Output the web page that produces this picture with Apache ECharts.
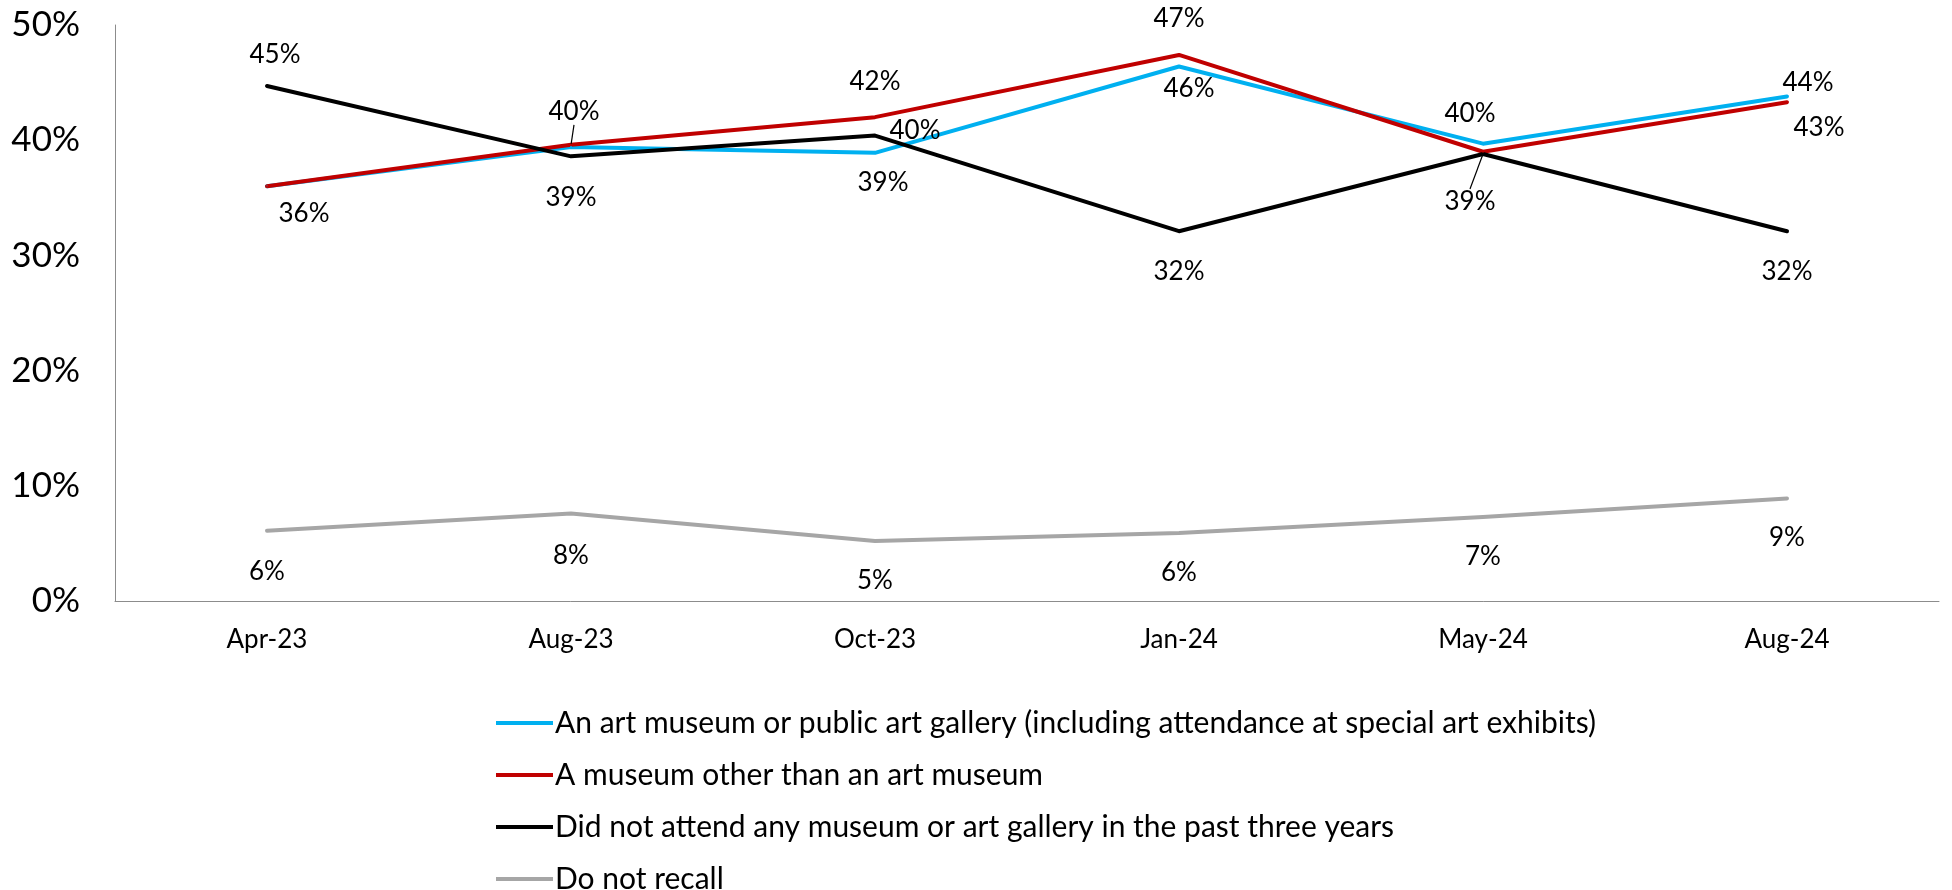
<!DOCTYPE html>
<html>
<head>
<meta charset="utf-8">
<title>Museum attendance</title>
<script src="https://cdn.jsdelivr.net/npm/echarts@6/dist/echarts.min.js"></script>
<style>
  html, body { margin: 0; padding: 0; background: #fff; }
  #chart { width: 1952px; height: 890px; }
</style>
</head>
<body>
<div id="chart"></div>
<script>
// Survey waves
const waves = ['Apr-23', 'Aug-23', 'Oct-23', 'Jan-24', 'May-24', 'Aug-24'];

// Share of respondents (%)
const artMuseum = [36.0, 39.4, 38.9, 46.4, 39.7, 43.8];
const otherMuseum = [36.0, 39.6, 42.0, 47.4, 39.0, 43.3];
const noneAttended = [44.7, 38.6, 40.4, 32.1, 38.8, 32.1];
const doNotRecall = [6.1, 7.6, 5.2, 5.9, 7.3, 8.9];

const seriesNames = [
  'An art museum or public art gallery (including attendance at special art exhibits)',
  'A museum other than an art museum',
  'Did not attend any museum or art gallery in the past three years',
  'Do not recall'
];
const seriesColors = ['#00B0F0', '#C00000', '#000000', '#A6A6A6'];

// Value axis ticks
const yMin = 0, yMax = 50, yStep = 10;

// Label placement (pixel shift from each point), labels hidden where another
// series prints the same number on the same spot, and labels with a leader line
const labelShift = [
  [[37, 27], [0, 51], [8, 30], [10, 22], [-13, -30], [21, -14]],
  [[37, 27], [3, -33], [0, -36], [0, -36], [-13, 50], [32, 25]],
  [[8, -31], [0, 41], [40, -5], [0, 40], [-13, 48], [0, 40]],
  [[0, 41], [0, 42], [0, 40], [0, 40], [0, 40], [0, 39]]
];
const hiddenLabels = [[0, 1], [4], [], []];
const leaderLines = [[], [1], [4], []];

const FONT = 'Lato, "Open Sans", sans-serif';

const chart = echarts.init(document.getElementById('chart'));

function buildSeries(values, idx) {
  return {
    name: seriesNames[idx],
    type: 'line',
    data: values.map((v, i) => ({
      value: v,
      label: { show: hiddenLabels[idx].indexOf(i) < 0 },
      labelLine: { show: leaderLines[idx].indexOf(i) >= 0 }
    })),
    symbol: 'circle',
    symbolSize: 2,
    showSymbol: true,
    silent: true,
    animation: false,
    lineStyle: { color: seriesColors[idx], width: 4, cap: 'round', join: 'round' },
    itemStyle: { color: seriesColors[idx] },
    label: {
      show: true,
      position: 'inside',
      align: 'center',
      verticalAlign: 'middle',
      color: '#000',
      fontFamily: FONT,
      fontSize: 26,
      formatter: p => Math.round(p.value) + '%'
    },
    labelLine: {
      show: false,
      lineStyle: { color: '#000', width: 1.2 }
    },
    labelLayout: p => ({
      dx: labelShift[idx][p.dataIndex][0],
      dy: labelShift[idx][p.dataIndex][1]
    })
  };
}

chart.setOption({
  backgroundColor: '#fff',
  animation: false,
  grid: { left: 115, right: 13, top: 25, bottom: 289, containLabel: false },
  xAxis: {
    type: 'category',
    data: waves,
    boundaryGap: true,
    axisLine: { lineStyle: { color: '#8C8C8C', width: 1 } },
    axisTick: { show: false },
    axisLabel: { color: '#000', fontFamily: FONT, fontSize: 26, margin: 26 },
    splitLine: { show: false }
  },
  yAxis: {
    type: 'value',
    min: yMin,
    max: yMax,
    interval: yStep,
    axisLine: { show: true, lineStyle: { color: '#8C8C8C', width: 1 } },
    axisTick: { show: false },
    splitLine: { show: false },
    axisLabel: { color: '#000', fontFamily: FONT, fontSize: 35, margin: 35, formatter: '{value}%' }
  },
  legend: {
    orient: 'vertical',
    left: 491,
    top: 703,
    height: 300,
    icon: 'rect',
    itemWidth: 57,
    itemHeight: 4,
    itemGap: 22,
    selectedMode: false,
    textStyle: { color: '#000', fontFamily: FONT, fontSize: 30, lineHeight: 30, padding: [0, 0, 0, -3] },
    data: seriesNames
  },
  series: [
    buildSeries(artMuseum, 0),
    buildSeries(otherMuseum, 1),
    buildSeries(noneAttended, 2),
    buildSeries(doNotRecall, 3)
  ]
});
</script>
</body>
</html>
